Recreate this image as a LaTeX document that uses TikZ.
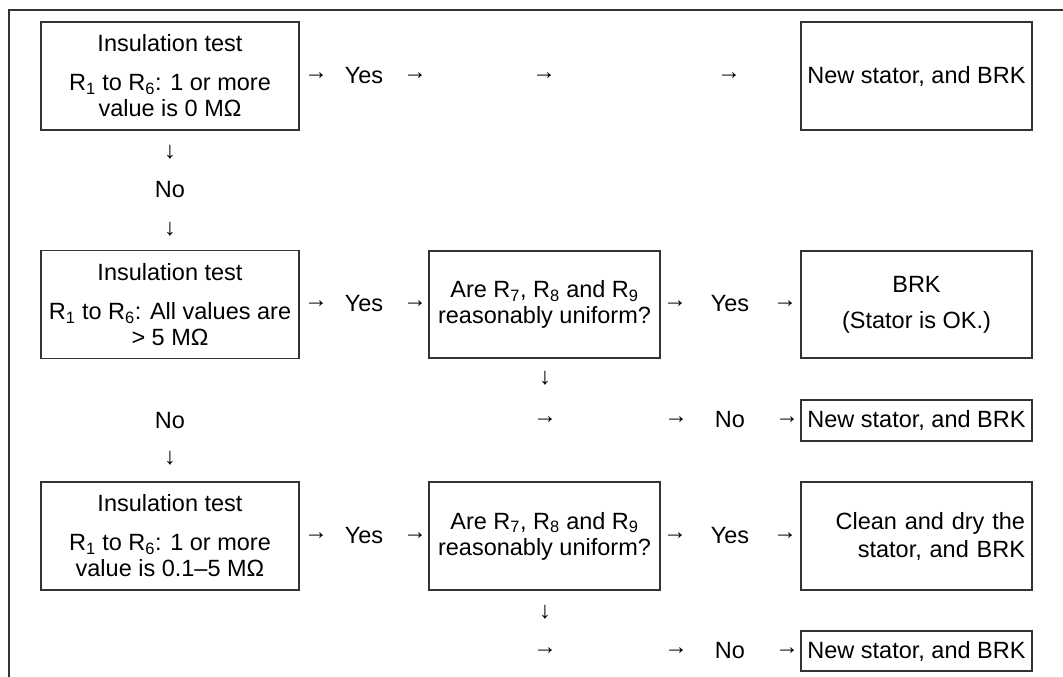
\documentclass[tikz,border=0pt]{standalone}
\usepackage{fontspec}
\setmainfont{Liberation Sans}
\begin{document}
\begin{tikzpicture}[x=1pt,y=-1pt,
  every node/.style={font=\fontsize{23.5}{26}\selectfont, text=black},
  box/.style={draw=black!80, line width=1.3pt, align=center, inner sep=0pt},
  bigleft/.style={box, minimum width=258pt, minimum height=108pt},
  midbox/.style={box, minimum width=231pt, minimum height=107pt},
  rightbox/.style={box, minimum width=231pt, minimum height=108pt},
  smallbox/.style={box, minimum width=231pt, minimum height=41pt},
  sym/.style={inner sep=0pt},
  frame/.style={draw=black!80, line width=1.3pt}]
\useasboundingbox (0,0) rectangle (1063,677);
\coordinate (fb) at (9,677);
\coordinate (fc) at (9,10);
\coordinate (fr) at (1063,10);
\draw[frame] (fb) -- (fc) -- (fr);

% row 1
\node[bigleft] (b1) at (170,76) {Insulation test\\[13pt]R\textsubscript{1} to R\textsubscript{6}: 1 or more\\value is 0 M\symbol{"03A9}};
\node[sym] (a1) at (316,76) {→};
\node[sym] (y1) at (364,76) {Yes};
\node[sym] (a2) at (415,76) {→};
\node[sym] (a3) at (544,76) {→};
\node[sym] (a4) at (729,76) {→};
\node[rightbox] (r1) at (916.5,76) {New stator, and BRK};

\node[sym] (d1) at (170,152) {↓};
\node[sym] (n1) at (170,190) {No};
\node[sym] (d2) at (170,229) {↓};

% row 2
\node[bigleft] (b2) at (170,304.5) {Insulation test\\[13pt]R\textsubscript{1} to R\textsubscript{6}: All values are\\> 5 M\symbol{"03A9}};
\node[sym] (a5) at (316,304) {→};
\node[sym] (y2) at (364,304) {Yes};
\node[sym] (a6) at (415,304) {→};
\node[midbox] (m2) at (544.5,304.5) {Are R\textsubscript{7}, R\textsubscript{8} and R\textsubscript{9}\\reasonably uniform?};
\node[sym] (a7) at (675,304) {→};
\node[sym] (y3) at (730,304) {Yes};
\node[sym] (a8) at (785,304) {→};
\node[rightbox, minimum height=107pt] (r2) at (916.5,304.5) {BRK\\[10pt](Stator is OK.)};

\node[sym] (d3) at (545,378) {↓};
\node[sym] (n2) at (170,421) {No};
\node[sym] (a9) at (545,420) {→};
\node[sym] (a10) at (676,420) {→};
\node[sym] (n3) at (730,420) {No};
\node[sym] (a11) at (787,420) {→};
\node[smallbox] (s2) at (916.5,420.5) {New stator, and BRK};

\node[sym] (d4) at (170,458) {↓};

% row 3
\node[bigleft] (b3) at (170,536) {Insulation test\\[13pt]R\textsubscript{1} to R\textsubscript{6}: 1 or more\\value is 0.1–5 M\symbol{"03A9}};
\node[sym] (a12) at (316,536) {→};
\node[sym] (y4) at (364,536) {Yes};
\node[sym] (a13) at (415,536) {→};
\node[midbox, minimum height=108pt] (m3) at (544.5,536) {Are R\textsubscript{7}, R\textsubscript{8} and R\textsubscript{9}\\reasonably uniform?};
\node[sym] (a14) at (675,536) {→};
\node[sym] (y5) at (730,536) {Yes};
\node[sym] (a15) at (785,536) {→};
\node[rightbox, align=right, text width=217pt, inner xsep=7pt] (r3) at (916.5,536) {Clean and dry the\\[2pt]stator, and BRK};

\node[sym] (d5) at (545,612) {↓};
\node[sym] (a16) at (545,651) {→};
\node[sym] (a17) at (676,651) {→};
\node[sym] (n4) at (730,651) {No};
\node[sym] (a18) at (787,651) {→};
\node[smallbox, minimum height=40pt] (s3) at (916.5,651) {New stator, and BRK};
\end{tikzpicture}
\end{document}
